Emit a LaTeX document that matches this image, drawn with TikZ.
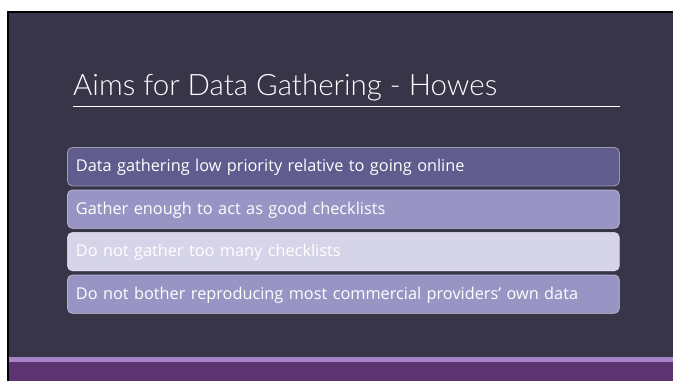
\documentclass[tikz,border=0pt]{standalone}
\usepackage{fontspec}
\setmainfont{Carlito}
\newfontfamily\itemfont{Open Sans}
\newfontfamily\titlefont{Lato Light}
\usetikzlibrary{positioning}

\definecolor{slidebg}{RGB}{56,53,72}
\definecolor{boxdark}{RGB}{96,92,142}
\definecolor{boxmid}{RGB}{152,149,196}
\definecolor{boxlight}{RGB}{214,212,232}
\definecolor{stripline}{RGB}{166,130,200}
\definecolor{stripband}{RGB}{91,52,112}

\tikzset{
  itembox/.style={draw=white, draw opacity=0.45, line width=0.8pt, rounded corners=5pt,
    anchor=north west, minimum width=552pt, minimum height=38.5pt, text width=535pt,
    align=left, inner xsep=8.5pt, text=white, font=\itemfont\fontsize{16.3}{18}\selectfont,
    text height=10.5pt, text depth=0pt},
}

\begin{document}
\begin{tikzpicture}[x=1pt,y=-1pt]
\useasboundingbox (0,0) rectangle (673,381);
\fill[white] (0,0) rectangle (673,381);

% Slide background and frame
\fill[black] (7,11) rectangle (673,381);
\fill[slidebg] (9,13) rectangle (673,381);

% Bottom band
\fill[stripline] (9,357) rectangle (673,362);
\fill[stripband] (9,362) rectangle (673,381);

% Title
\node[anchor=base west, inner sep=0pt, text=white, font=\titlefont\fontsize{29.5}{36}\selectfont] (title) at (73,95) {Aims for Data Gathering - Howes};
\draw[white, line width=1pt] (73,106) -- (620,106);

% List boxes
\node[itembox, fill=boxdark] (aim1) at (67,147) {Data gathering low priority relative to going online};
\node[itembox, fill=boxmid] (aim2) at (67,189.5) {Gather enough to act as good checklists};
\node[itembox, fill=boxlight] (aim3) at (67,232) {Do not gather too many checklists};
\node[itembox, fill=boxmid] (aim4) at (67,274.5) {Do not bother reproducing most commercial providers’ own data};

\end{tikzpicture}
\end{document}
